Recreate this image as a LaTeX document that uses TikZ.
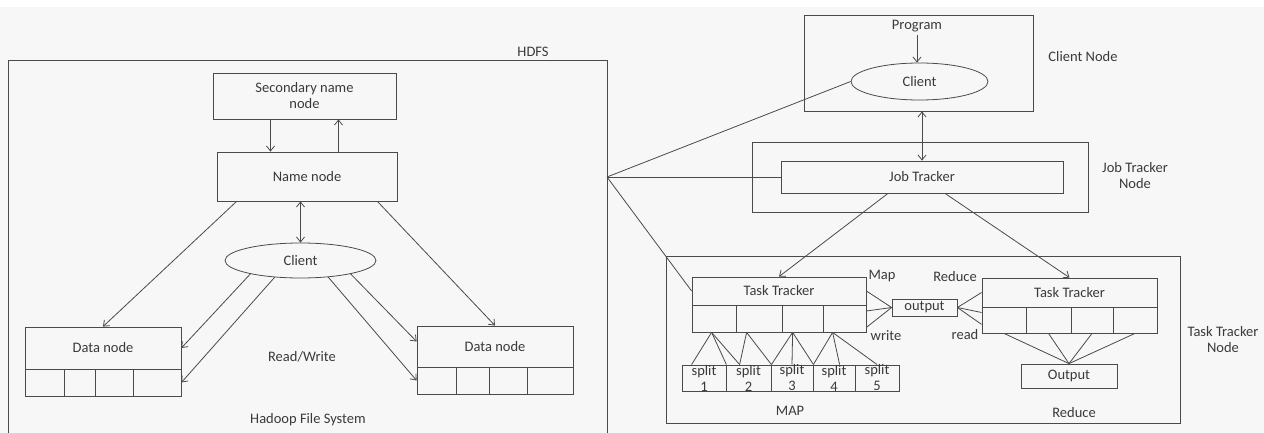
\documentclass[tikz,border=0pt]{standalone}
\usepackage{fontspec}
\setmainfont{Carlito}
\usetikzlibrary{arrows.meta,shapes.geometric}
\definecolor{ln}{HTML}{4A4A4A}
\definecolor{tx}{HTML}{3A3A3A}
\definecolor{bg}{HTML}{F7F7F7}
\begin{document}
\begin{tikzpicture}[x=1pt,y=-1pt,
  line/.style={draw=ln,line width=0.8pt},
  arr/.style={line,-{Straight Barb[length=5pt,width=8pt]}},
  darr/.style={line,{Straight Barb[length=5pt,width=8pt]}-{Straight Barb[length=5pt,width=8pt]}},
  txt/.style={text=tx,font=\fontsize{14.5}{16}\selectfont,align=center},
  box/.style={txt,draw=ln,line width=0.8pt,rectangle,inner sep=0pt},
  oval/.style={txt,draw=ln,line width=0.8pt,ellipse,inner sep=0pt},
  lbl/.style={txt,inner sep=0pt}]
\fill[bg] (0,0) rectangle (1264,433);
\fill[white] (0,0) rectangle (1264,7);
\useasboundingbox (0,0) rectangle (1264,433);

% ---------------- HDFS ----------------
\draw[line] (8,440) -- (8,60) -- (607,60) -- (607,440);
\coordinate (hub) at (607,177);
\node[lbl] (lhdfs) at (533,52) {HDFS};
\node[box,minimum width=183pt,minimum height=46pt] (sec) at (304.5,96) {Secondary name\\node};
\node[box,minimum width=180pt,minimum height=49pt] (name) at (307,176.5) {Name node};
\node[oval,minimum width=151pt,minimum height=35pt] (cl1) at (300.5,260.5) {Client};

\node[box,minimum width=156pt,minimum height=42pt] (dn1) at (103,348) {Data node};
\node[box,minimum width=39pt,minimum height=27pt] (dn1a) at (44.5,382.5) {};
\node[box,minimum width=31pt,minimum height=27pt] (dn1b) at (79.5,382.5) {};
\node[box,minimum width=38pt,minimum height=27pt] (dn1c) at (114,382.5) {};
\node[box,minimum width=48pt,minimum height=27pt] (dn1d) at (157,382.5) {};

\node[box,minimum width=156pt,minimum height=41pt] (dn2) at (495,346.5) {Data node};
\node[box,minimum width=39pt,minimum height=27pt] (dn2a) at (436.5,380.5) {};
\node[box,minimum width=33pt,minimum height=27pt] (dn2b) at (472.5,380.5) {};
\node[box,minimum width=38pt,minimum height=27pt] (dn2c) at (508,380.5) {};
\node[box,minimum width=46pt,minimum height=27pt] (dn2d) at (550,380.5) {};

\node[lbl] (lrw) at (302,357) {Read/Write};
\node[lbl] (lhfs) at (308,420) {Hadoop File System};

\draw[arr] ([xshift=-34pt]sec.south) -- ([xshift=-34pt]sec.south |- name.north);
\draw[arr] ([xshift=34pt]sec.south |- name.north) -- ([xshift=34pt]sec.south);
\draw[darr] (cl1.north |- name.south) -- (cl1.north);
\draw[arr] ([xshift=20pt]name.south west) -- (dn1.north);
\draw[arr] ([xshift=-20pt]name.south east) -- (dn2.north);
\draw[arr] (cl1.195) -- (dn1.east);
\draw[arr] (cl1.213) -- (dn1d.east);
\draw[arr] (cl1.345) -- ([yshift=5pt]dn2.west);
\draw[arr] (cl1.329) -- (dn2a.west);

% ---------------- Client node ----------------
\node[box,minimum width=229pt,minimum height=96pt] (cnb) at (918.5,63) {};
\node[lbl] (prog) at (917,26) {Program};
\node[oval,minimum width=137pt,minimum height=37pt] (cl2) at (919.5,81.5) {Client};
\node[lbl] (lcn) at (1083,57) {Client Node};
\draw[arr] ([yshift=-3pt]prog.south) -- (prog.south |- cl2.north);

% ---------------- Job tracker ----------------
\node[box,minimum width=336pt,minimum height=70pt] (jtn) at (920,177) {};
\node[box,minimum width=282pt,minimum height=32pt] (jt) at (922,177) {Job Tracker};
\node[lbl] (ljtn) at (1135,175.5) {Job Tracker\\Node};
\draw[darr] (jt.north |- cnb.south) -- (jt.north);

\draw[line] (hub) -- (cl2.west);
\draw[line] (hub) -- (jt.west);

% ---------------- Task tracker node ----------------
\node[box,minimum width=514pt,minimum height=167pt] (ttn) at (923,339.5) {};
\node[lbl] (lttn) at (1223,340) {Task Tracker\\Node};

\node[box,minimum width=174pt,minimum height=28pt] (mtt) at (779,291) {Task Tracker};
\node[box,minimum width=44pt,minimum height=27pt] (mta) at (714,318.5) {};
\node[box,minimum width=46pt,minimum height=27pt] (mtb) at (759,318.5) {};
\node[box,minimum width=41pt,minimum height=27pt] (mtc) at (802.5,318.5) {};
\node[box,minimum width=43pt,minimum height=27pt] (mtd) at (844.5,318.5) {};

\node[box,minimum width=175pt,minimum height=29pt] (rtt) at (1069.5,292.5) {Task Tracker};
\node[box,minimum width=44pt,minimum height=26pt] (rta) at (1004,320) {};
\node[box,minimum width=45pt,minimum height=26pt] (rtb) at (1048.5,320) {};
\node[box,minimum width=42pt,minimum height=26pt] (rtc) at (1092,320) {};
\node[box,minimum width=44pt,minimum height=26pt] (rtd) at (1135,320) {};

\node[box,minimum width=65pt,minimum height=17pt] (out1) at (924.5,307.5) {output};
\node[box,minimum width=96pt,minimum height=24pt] (out2) at (1069,376) {Output};

\node[box,minimum width=44pt,minimum height=26pt] (s1) at (704,378) {split\\1};
\node[box,minimum width=45pt,minimum height=26pt] (s2) at (748.5,378) {split\\2};
\node[box,minimum width=42pt,minimum height=26pt] (s3) at (792,378) {split\\3};
\node[box,minimum width=42pt,minimum height=26pt] (s4) at (834,378) {split\\4};
\node[box,minimum width=44pt,minimum height=26pt] (s5) at (877,378) {split\\5};

\node[lbl] (lmap) at (882,276) {Map};
\node[lbl] (lwrite) at (886,336) {write};
\node[lbl] (lred) at (955,277) {Reduce};
\node[lbl] (lread) at (965,335) {read};
\node[lbl] (lMAP) at (790,411) {MAP};
\node[lbl] (lred2) at (1074,413) {Reduce};

\draw[line] (hub) -- (mtt.west);
\draw[arr] ([xshift=-34pt]jt.south) -- (mtt.north);
\draw[arr] ([xshift=23pt]jt.south) -- (rtt.north);

% map -> output
\draw[line] (mtt.east) -- (out1.west);
\draw[line] ([yshift=-20pt]mtt.east) -- (out1.west);
\draw[line] ([yshift=5pt]mtd.south east) -- (out1.west);
% output -> reduce
\draw[line] (out1.east) -- (rtt.west);
\draw[line] (out1.east) -- ([yshift=-20pt]rtt.west);
\draw[line] (out1.east) -- ([yshift=9pt]rta.south west);

% reduce -> Output
\foreach \c in {rta,rtb,rtc,rtd} \draw[line] (\c.south) -- (out2.north);

% splits
\coordinate (p1) at ([xshift=20pt]mta.south west);
\coordinate (p2) at ([xshift=11pt]mtb.south west);
\coordinate (p3) at ([xshift=11pt]mtc.south west);
\coordinate (p4) at ([xshift=10pt]mtd.south west);
\draw[line] (p1) -- ([xshift=10pt]s1.north west);
\draw[line] (p1) -- (s1.north east);
\draw[line] (p1) -- ([xshift=14pt]s2.north west);
\draw[line] (p2) -- ([xshift=14pt]s2.north west);
\draw[line] (p2) -- (s2.north east);
\draw[line] (p3) -- (s2.north east);
\draw[line] (p3) -- (s3.north);
\draw[line] (p3) -- (s3.north east);
\draw[line] (p4) -- (s3.north east);
\draw[line] (p4) -- ([xshift=27pt]s4.north west);
\draw[line] (p4) -- (s5.north);
\end{tikzpicture}
\end{document}
